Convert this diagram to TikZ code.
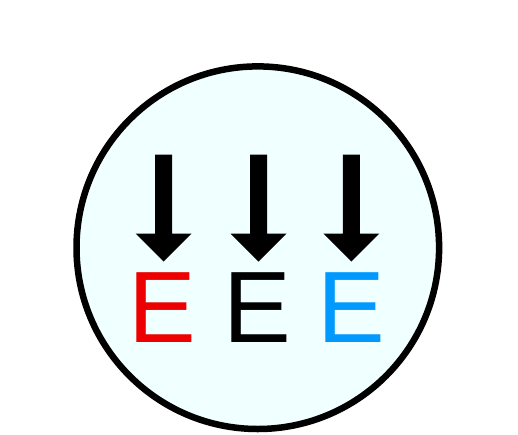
\documentclass[tikz,border=0pt]{standalone}
\usepackage{fontspec}
\setmainfont{Liberation Sans}
\definecolor{bgfill}{RGB}{240,255,255}
\definecolor{ered}{RGB}{238,0,0}
\definecolor{eblue}{RGB}{0,153,255}
\tikzset{
  ring/.style={draw=black, line width=6.5pt, fill=bgfill},
  letter/.style={inner sep=0pt, anchor=base, font=\fontsize{101.5}{120}\selectfont},
  bigarrow/.style={fill=black, draw=none}
}
\newcommand{\downarrowshape}[1]{%
  \fill[bigarrow] (#1-8.5,154.5) -- (#1+8.5,154.5) -- (#1+8.5,233.5) -- (#1+28,233.5)
    -- (#1,261.5) -- (#1-28,233.5) -- (#1-8.5,233.5) -- cycle;}
\begin{document}
\begin{tikzpicture}[x=1pt,y=-1pt]
\useasboundingbox (0,0) rectangle (518,434);
\fill[white] (0,0) rectangle (518,434);
\draw[ring] (257.8,247.7) circle[radius=181.3];
\downarrowshape{163.6}
\downarrowshape{258.5}
\downarrowshape{351.3}
\node[letter, text=ered] (e1) at (162.4,342) {E};
\node[letter, text=black] (e2) at (257.4,342) {E};
\node[letter, text=eblue] (e3) at (351.4,342) {E};
\end{tikzpicture}
\end{document}
